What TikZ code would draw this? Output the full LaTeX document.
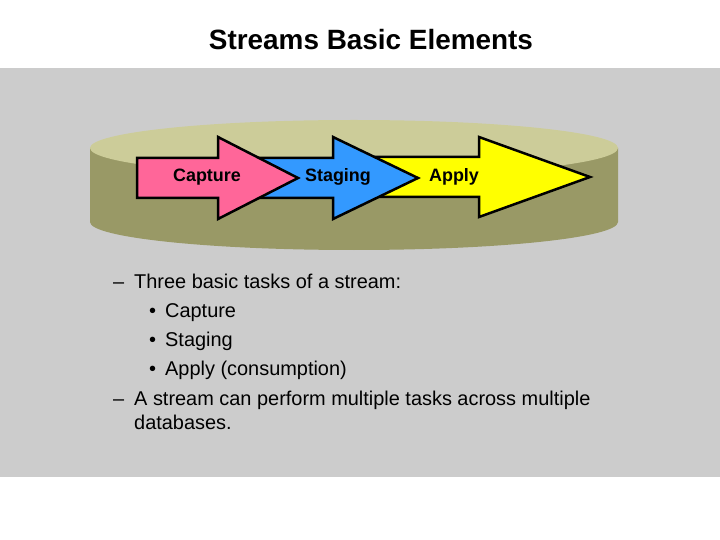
\documentclass[tikz,border=0pt]{standalone}
\usepackage{fontspec}
\setmainfont{Liberation Sans}
\definecolor{panel}{HTML}{CCCCCC}
\definecolor{cyltop}{HTML}{CCCC99}
\definecolor{cylside}{HTML}{999966}
\definecolor{pinkA}{HTML}{FF6699}
\definecolor{blueA}{HTML}{3399FF}
\definecolor{yellowA}{HTML}{FFFF00}
\begin{document}
\begin{tikzpicture}[x=1bp,y=-1bp,
  arrowshape/.style={draw=black,line width=2.5bp,line join=miter},
  lbl/.style={font=\fontsize{18}{20}\selectfont\bfseries,inner sep=0pt,anchor=base},
  body/.style={font=\fontsize{20}{24}\selectfont,inner sep=0pt,anchor=base west}]
\useasboundingbox (0,0) rectangle (720,540);
\fill[white] (0,0) rectangle (720,540);
\fill[panel] (0,68) rectangle (720,477);
% title
\node[font=\fontsize{28}{32}\selectfont\bfseries,inner sep=0pt,anchor=base] (title) at (371,50) {Streams Basic Elements};
% cylinder
\fill[cylside] (90,148) -- (90,222) arc[start angle=180,end angle=360,x radius=264bp,y radius=28bp] -- (618,148) -- cycle;
\fill[cyltop] (354,148) ellipse [x radius=264bp,y radius=28bp];
% arrows
\filldraw[arrowshape,fill=yellowA] (365,157) -- (479,157) -- (479,137) -- (590,177) -- (479,217) -- (479,197) -- (365,197) -- cycle;
\filldraw[arrowshape,fill=blueA] (250,158) -- (333,158) -- (333,137) -- (418,178) -- (333,219) -- (333,198) -- (250,198) -- cycle;
\filldraw[arrowshape,fill=pinkA] (137,158) -- (218,158) -- (218,137) -- (298,178) -- (218,219) -- (218,198) -- (137,198) -- cycle;
\node[lbl] (cap) at (207,182) {Capture};
\node[lbl] (stg) at (338,182) {Staging};
\node[lbl] (app) at (454,182) {Apply};
% body text
\node[body] (d1) at (113,288) {–};
\node[body] (t1) at (134,288) {Three basic tasks of a stream:};
\node[body] (b1) at (149,317) {•};
\node[body] (t2) at (165,317) {Capture};
\node[body] (b2) at (149,346) {•};
\node[body] (t3) at (165,346) {Staging};
\node[body] (b3) at (149,375) {•};
\node[body] (t4) at (165,375) {Apply (consumption)};
\node[body] (d2) at (113,405) {–};
\node[body] (t5) at (134,405) {A stream can perform multiple tasks across multiple};
\node[body] (t6) at (134,429) {databases.};
\end{tikzpicture}
\end{document}
